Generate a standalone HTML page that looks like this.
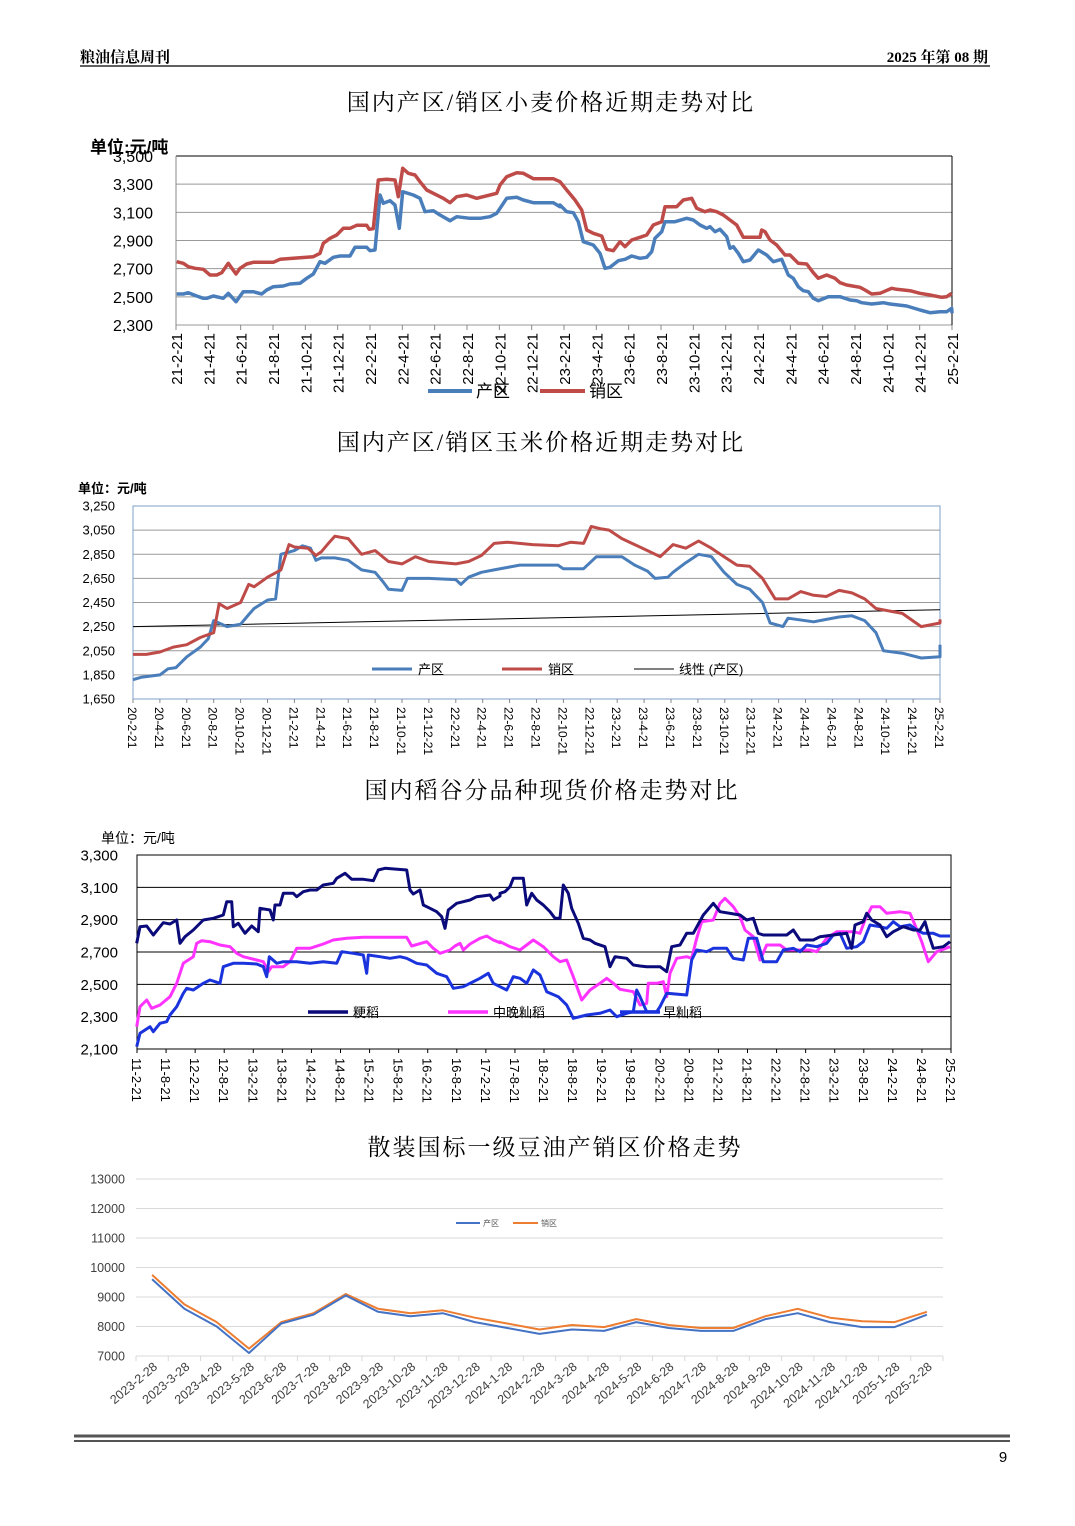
<!DOCTYPE html>
<html><head><meta charset="utf-8">
<style>
html,body{margin:0;padding:0;background:#fff;}
svg{display:block;font-family:"Liberation Sans","Noto Sans CJK SC",sans-serif;}
.serif{font-family:"Liberation Serif","Noto Serif CJK SC",serif;}
</style></head>
<body>
<svg id="s" width="1075" height="1526" viewBox="0 0 1075 1526" xmlns="http://www.w3.org/2000/svg">
<text x="80" y="62" font-size="15" class="serif" font-weight="bold">粮油信息周刊</text>
<text x="988" y="62" font-size="15" class="serif" font-weight="bold" text-anchor="end">2025 年第 08 期</text>
<line x1="80" y1="66" x2="990" y2="66" stroke="#000" stroke-width="1.2"/>
<text x="551" y="110" font-size="23" text-anchor="middle" class="serif" letter-spacing="2">国内产区/销区小麦价格近期走势对比</text>
<text x="541" y="450" font-size="23" text-anchor="middle" class="serif" letter-spacing="2">国内产区/销区玉米价格近期走势对比</text>
<text x="552" y="798" font-size="23" text-anchor="middle" class="serif" letter-spacing="2">国内稻谷分品种现货价格走势对比</text>
<text x="555" y="1155" font-size="23" text-anchor="middle" class="serif" letter-spacing="2">散装国标一级豆油产销区价格走势</text>
<g id="g"></g>
<line x1="74" y1="1436" x2="1010" y2="1436" stroke="#555" stroke-width="3"/>
<line x1="74" y1="1441" x2="1010" y2="1441" stroke="#555" stroke-width="2"/>
<text x="1003" y="1462" font-size="15" text-anchor="middle">9</text>
</svg>
<script>
var out='';
function fmt(v){return v>=1000?Math.floor(v/1000)+','+String(v%1000).padStart(3,'0'):String(v);}
function line(pts,color,w){return '<polyline fill="none" stroke="'+color+'" stroke-width="'+w+'" stroke-linejoin="round" points="'+pts.map(p=>p[0].toFixed(1)+','+p[1].toFixed(1)).join(' ')+'"/>';}
function series(data,x0,dx,y0,v0,k,color,w,remap){return line(data.map(d=>[x0+(remap?remap(d[0]):d[0])*dx,y0-(d[1]-v0)*k]),color,w);}
function pairs(a){var r=[];for(var i=0;i<a.length;i+=2)r.push([a[i],a[i+1]]);return r;}
// zoom-pixel polylines: two segments, (ox,oy) offsets, scale 1/3
function zp(a,ox,oy,maxpx){var r=[];for(var i=0;i<a.length;i+=2){if(maxpx!==undefined&&a[i]>maxpx)continue;r.push([ox+a[i]/3,oy+a[i+1]/3]);}return r;}

// ---- Chart 1 wheat ----
(function(){
var x0=176,x1=952,y0=325,y1=156,k=(y0-y1)/1200,dx=(x1-x0)/24;
for(var v=2300;v<=3500;v+=200){var y=y0-(v-2300)*k;
 out+='<line x1="'+x0+'" y1="'+y+'" x2="'+x1+'" y2="'+y+'" stroke="#999" stroke-width="1"/>';
 out+='<text x="153" y="'+(y+6)+'" font-size="16" text-anchor="end">'+fmt(v)+'</text>';}
out+='<line x1="'+x0+'" y1="'+y1+'" x2="'+x1+'" y2="'+y1+'" stroke="#000"/><line x1="'+x1+'" y1="'+y1+'" x2="'+x1+'" y2="'+y0+'" stroke="#000"/>';
out+='<line x1="'+x0+'" y1="'+y1+'" x2="'+x0+'" y2="'+y0+'" stroke="#888"/>';
out+='<text x="90" y="153" font-size="17" font-weight="bold">单位:元/吨</text>';
var lab=[];for(var t=0;t<=24;t++){var m=2+2*t;var yr=21+Math.floor((m-1)/12);var mm=((m-1)%12)+1;lab.push(yr+'-'+mm+'-21');}
lab.forEach(function(l,i){var x=x0+i*dx;out+='<line x1="'+x+'" y1="'+y0+'" x2="'+x+'" y2="'+(y0+5)+'" stroke="#888"/>';
 out+='<text transform="translate('+(x+6)+','+(y0+8)+') rotate(-90)" font-size="15" text-anchor="end">'+l+'</text>';});
var rl=[290,395,310,400,325,410,345,415,370,418,390,435,410,435,425,428,445,400,468,432,480,415,500,402,520,397,580,397,600,388,640,385,700,380,720,370,730,340,750,325,770,315,790,295,810,295,830,286,860,286,868,298,880,296,895,150,920,148,945,150,955,200,968,115,985,130,1005,135,1020,155,1040,180,1060,190,1090,205,1110,218,1130,200,1160,195,1190,205,1230,195,1250,190,1260,165,1280,140,1310,128,1330,130,1360,146,1420,146,1440,155];
var rr=[0,95,20,120,45,150,65,180,80,240,100,250,125,258,140,298,160,302,180,275,195,290,215,270,240,262,260,255,280,225,305,215,315,170,350,170,370,150,395,145,410,175,435,185,450,180,470,185,490,195,510,210,530,225,550,262,600,262,605,240,615,245,630,270,650,285,675,315,690,315,715,340,740,342,760,368,775,385,800,375,825,385,840,398,860,405,900,412,915,420,935,432,960,430,995,415,1010,418,1050,422,1080,430,1110,435,1145,442,1160,440,1175,430];
var bl=[290,492,310,492,325,488,350,498,370,505,380,505,400,498,430,505,445,490,468,515,490,485,520,485,545,492,560,480,580,470,610,468,630,462,660,460,680,445,700,432,720,395,735,400,760,382,780,378,810,378,825,352,860,352,870,362,885,360,900,195,910,220,930,212,945,225,958,295,968,185,1000,195,1020,205,1035,245,1060,242,1080,255,1110,272,1130,260,1170,265,1200,265,1230,260,1250,250,1280,205,1310,202,1330,210,1360,218,1420,218,1440,230];
var br=[0,165,20,185,40,188,55,215,70,275,100,285,120,310,135,355,150,352,175,332,195,328,215,318,240,325,260,322,275,305,285,265,305,245,315,215,345,215,380,205,400,210,420,225,440,235,450,230,465,245,480,238,500,260,510,295,520,290,535,310,550,335,570,330,595,300,620,315,640,335,665,328,685,375,700,385,715,410,730,422,745,425,760,445,775,452,805,440,840,440,870,450,890,452,905,458,935,462,970,458,990,462,1040,468,1080,480,1110,488,1140,485,1160,485,1175,475,1176,490];
out+=line(zp(bl,80,130).concat(zp(br,560,150)),'#4a7ebb',3.5);
out+=line(zp(rl,80,130).concat(zp(rr,560,150)),'#be4b48',3.5);
out+='<line x1="428" y1="391" x2="472" y2="391" stroke="#4a7ebb" stroke-width="4"/><text x="476" y="397" font-size="17">产区</text>';
out+='<line x1="540" y1="391" x2="585" y2="391" stroke="#be4b48" stroke-width="4"/><text x="589" y="397" font-size="17">销区</text>';
})();

// ---- Chart 2 corn ----
(function(){
var x0=133,x1=940,y0=699,y1=506,k=(y0-y1)/1600,dx=(x1-x0)/30;
for(var v=1650;v<=3250;v+=200){var y=y0-(v-1650)*k;
 if(v>1650&&v<3250)out+='<line x1="'+x0+'" y1="'+y+'" x2="'+x1+'" y2="'+y+'" stroke="#999" stroke-width="1"/>';
 out+='<text x="115" y="'+(y+4.5)+'" font-size="13" text-anchor="end">'+fmt(v)+'</text>';}
out+='<rect x="'+x0+'" y="'+y1+'" width="'+(x1-x0)+'" height="'+(y0-y1)+'" fill="none" stroke="#7f9fc8" stroke-width="1"/>';
out+='<text x="78" y="493" font-size="13" font-weight="bold">单位：元/吨</text>';
for(var t=0;t<=30;t++){var m=2+2*t;var yr=20+Math.floor((m-1)/12);var mm=((m-1)%12)+1;var x=x0+t*dx;
 out+='<line x1="'+x+'" y1="'+y0+'" x2="'+x+'" y2="'+(y0+4)+'" stroke="#888"/>';
 out+='<text transform="translate('+(x-5)+','+(y0+8)+') rotate(90)" font-size="12">'+yr+'-'+mm+'-21</text>';}
out+='<line x1="'+x0+'" y1="'+(y0-(2250-1650)*k)+'" x2="'+x1+'" y2="'+(y0-(2390-1650)*k)+'" stroke="#000" stroke-width="1"/>';
function rm(t){if(t<=12)return t; if(t<=28)return t-0.8*(t-12)/16; return 27.2+(t-28)*1.4;}
var b=pairs([0,1810,0.3,1830,1,1850,1.3,1900,1.6,1910,2,2000,2.5,2080,2.8,2150,3,2300,3.5,2250,4,2270,4.3,2350,4.5,2400,5,2470,5.3,2480,5.5,2850,6,2880,6.3,2920,6.6,2900,6.8,2800,7,2820,7.5,2820,8,2800,8.5,2720,9,2700,9.3,2620,9.5,2560,10,2550,10.2,2650,11,2650,12,2640,12.2,2600,12.5,2660,13,2700,13.5,2720,14,2740,14.5,2760,16,2760,16.2,2730,17,2730,17.5,2830,18.5,2830,19,2760,19.5,2710,19.8,2650,20.3,2660,20.5,2700,21,2780,21.5,2850,22,2830,22.5,2700,23,2600,23.5,2560,24,2450,24.3,2280,24.8,2250,25,2320,26,2290,26.5,2310,27,2330,27.5,2340,28,2300,28.3,2200,28.5,2050,29,2030,29.5,1990,30,2000,30.05,2100]);
var r=pairs([0,2020,0.5,2020,1,2040,1.5,2080,2,2100,2.5,2160,3,2200,3.2,2440,3.5,2400,4,2450,4.3,2600,4.5,2580,5,2660,5.5,2720,5.8,2930,6,2910,6.5,2900,6.8,2840,7,2870,7.3,2950,7.5,3000,8,2980,8.5,2850,9,2880,9.5,2790,10,2770,10.5,2830,11,2790,12,2770,12.5,2790,13,2840,13.5,2940,14,2950,15,2930,16,2920,16.5,2950,17,2940,17.3,3080,17.7,3060,18,3050,18.5,2980,19,2930,19.5,2880,20,2830,20.5,2930,21,2900,21.5,2960,22,2900,22.5,2830,23,2760,23.5,2750,24,2650,24.5,2480,25,2480,25.5,2540,26,2510,26.5,2500,27,2550,27.5,2530,28,2480,28.3,2400,29,2360,29.5,2250,30,2280,30.05,2310]);
function rmc(t){var v=rm(t);return Math.min(v,30);}
out+=series(b,x0,dx,y0,1650,k,'#4a7ebb',3,rmc);
out+=series(r,x0,dx,y0,1650,k,'#be4b48',3,rmc);
out+='<line x1="372" y1="669" x2="412" y2="669" stroke="#4a7ebb" stroke-width="3"/><text x="418" y="674" font-size="13">产区</text>';
out+='<line x1="502" y1="669" x2="542" y2="669" stroke="#be4b48" stroke-width="3"/><text x="548" y="674" font-size="13">销区</text>';
out+='<line x1="634" y1="669" x2="674" y2="669" stroke="#000" stroke-width="1"/><text x="679" y="674" font-size="13">线性 (产区)</text>';
})();

// ---- Chart 3 rice ----
(function(){
var x0=137,x1=951,y0=1049,y1=855,k=(y0-y1)/1200,dx=(x1-x0)/28;
for(var v=2100;v<=3300;v+=200){var y=y0-(v-2100)*k;
 out+='<line x1="'+x0+'" y1="'+y+'" x2="'+x1+'" y2="'+y+'" stroke="#000" stroke-width="1"/>';
 out+='<text x="118" y="'+(y+5.5)+'" font-size="15" text-anchor="end">'+fmt(v)+'</text>';}
out+='<rect x="'+x0+'" y="'+y1+'" width="'+(x1-x0)+'" height="'+(y0-y1)+'" fill="none" stroke="#000" stroke-width="1"/>';
out+='<text x="101" y="843" font-size="14">单位：元/吨</text>';
for(var t=0;t<=28;t++){var yr=11+Math.floor(t/2);var mm=t%2?8:2;var x=x0+t*dx;
 out+='<line x1="'+x+'" y1="'+y0+'" x2="'+x+'" y2="'+(y0+4)+'" stroke="#000"/>';
 out+='<text transform="translate('+(x-5)+','+(y0+9)+') rotate(90)" font-size="13">'+yr+'-'+mm+'-21</text>';}
var nL=[200,370,210,320,230,318,250,345,270,320,280,308,300,312,320,300,330,370,345,350,370,330,400,300,430,295,460,285,470,245,485,245,490,320,505,310,525,340,545,318,565,335,570,265,600,270,610,300,615,255,630,255,640,220,670,220,680,230,700,215,720,210,740,210,760,195,790,190,800,175,825,160,845,178,880,178,910,182,925,150,945,145,1010,150,1020,210,1030,222,1050,210,1060,255,1080,265,1100,275,1115,290,1125,325,1135,270,1160,250,1180,245,1200,240,1220,230,1260,225,1270,240,1290,228];
var nR=[0,130,15,125,30,110,40,85,70,85,80,165,95,130,110,150,130,165,150,185,165,205,180,205,190,105,205,130,215,175,235,220,250,265,270,270,285,280,315,290,330,350,345,320,380,325,400,345,420,348,440,350,480,350,500,365,515,290,540,285,560,250,580,250,610,195,640,160,660,185,720,195,740,210,760,205,775,250,790,255,860,255,880,240,900,270,940,270,960,260,1000,255,1040,250,1055,295,1065,225,1090,215,1100,190,1115,210,1140,225,1160,260,1180,245,1210,230,1240,240,1260,240,1275,215,1285,250,1300,295,1330,290,1350,275];
var pL=[200,620,210,560,230,540,245,565,270,555,300,530,320,490,340,430,370,410,380,370,395,362,420,365,450,375,480,380,500,400,520,410,560,420,580,425,595,455,605,440,640,440,660,425,680,385,720,385,760,372,790,360,830,355,880,352,1010,352,1025,378,1070,365,1090,385,1110,400,1140,390,1155,378,1170,370,1180,390,1200,372,1230,355,1250,348,1270,360,1290,368];
var pR=[0,275,30,290,60,300,80,285,100,270,130,290,160,320,180,335,200,330,220,380,245,450,270,420,300,400,320,385,340,400,360,418,400,425,420,465,440,460,445,400,470,400,490,395,500,440,510,370,530,325,560,320,575,325,590,265,605,215,640,210,660,160,675,145,700,170,720,200,735,240,760,260,780,330,800,285,840,285,860,300,900,300,930,300,950,305,980,265,1010,245,1060,245,1080,250,1095,210,1115,170,1140,170,1160,190,1200,185,1230,190,1245,225,1265,275,1285,335,1310,305,1350,290];
var eL=[200,680,210,640,240,620,250,635,270,610,290,605,300,585,320,560,340,520,350,505,370,510,400,490,420,480,450,490,460,440,490,430,520,430,560,432,580,440,590,470,598,410,620,430,640,425,680,425,720,430,760,425,800,430,815,395,850,400,880,405,890,460,895,405,930,410,960,415,990,410,1010,415,1040,430,1070,435,1100,460,1130,470,1150,505,1180,500,1200,490,1230,475,1255,460,1270,490,1290,500];
var eR=[0,410,20,420,40,380,60,385,80,400,100,360,120,375,140,425,175,440,200,465,220,505,260,495,300,490,330,480,350,500,380,490,400,485,410,420,420,440,440,485,470,485,480,470,500,430,560,435,575,330,590,300,620,305,640,295,680,295,700,325,730,330,745,265,770,265,790,335,830,335,850,300,880,295,900,305,920,285,950,290,980,280,1000,255,1020,250,1040,295,1070,290,1090,275,1110,225,1140,230,1160,235,1180,215,1200,230,1230,225,1250,240,1270,250,1300,250,1320,258,1350,258];
out+=line(zp(pL,70,820).concat(zp(pR,500,850)),'#ff33ff',3);
out+=line(zp(eL,70,820).concat(zp(eR,500,850)),'#1a33dd',3);
out+=line(zp(nL,70,820).concat(zp(nR,500,850)),'#0a0a7a',3);
out+='<rect x="300" y="1004" width="60" height="1" fill="none"/>';
out+='<line x1="308" y1="1012" x2="348" y2="1012" stroke="#0a0a7a" stroke-width="3.5"/><text x="353" y="1017" font-size="13">粳稻</text>';
out+='<line x1="448" y1="1012" x2="488" y2="1012" stroke="#ff33ff" stroke-width="3.5"/><text x="493" y="1017" font-size="13">中晚籼稻</text>';
out+='<line x1="620" y1="1012" x2="660" y2="1012" stroke="#1a33dd" stroke-width="3.5"/><text x="663" y="1017" font-size="13">早籼稻</text>';
})();

// ---- Chart 4 soybean oil ----
(function(){
var x0=136,x1=943,y0=1356,y1=1179,k=(y0-y1)/6000;
for(var v=7000;v<=13000;v+=1000){var y=y0-(v-7000)*k;
 out+='<line x1="'+x0+'" y1="'+y+'" x2="'+x1+'" y2="'+y+'" stroke="#d9d9d9" stroke-width="1"/>';
 out+='<text x="125" y="'+(y+4.5)+'" font-size="12.5" text-anchor="end" fill="#404040">'+v+'</text>';}
var lab=[];for(var i=0;i<25;i++){var mm=2+i;var yr=2023+Math.floor((mm-1)/12);mm=((mm-1)%12)+1;lab.push(yr+'-'+mm+'-28');}
var dx=(x1-x0)/25;
for(var i=0;i<=25;i++){var x=x0+i*dx;out+='<line x1="'+x+'" y1="'+y0+'" x2="'+x+'" y2="'+(y0+5)+'" stroke="#d9d9d9"/>';}
lab.forEach(function(l,i){var x=x0+(i+0.5)*dx;out+='<text transform="translate('+(x+6)+','+(y0+12)+') rotate(-40)" font-size="12.5" text-anchor="end" fill="#404040">'+l+'</text>';});
var a=[9600,8600,8000,7100,8100,8400,9050,8500,8350,8450,8150,7950,7750,7900,7850,8150,7950,7850,7850,8250,8450,8150,7980,7980,8400];
var b=[9750,8750,8150,7250,8150,8450,9100,8600,8450,8550,8300,8100,7900,8050,7980,8250,8050,7950,7950,8350,8600,8300,8180,8150,8500];
out+=line(b.map((v,i)=>[x0+(i+0.5)*dx,y0-(v-7000)*k]),'#ed7d31',2);
out+=line(a.map((v,i)=>[x0+(i+0.5)*dx,y0-(v-7000)*k]),'#4472c4',2);
out+='<line x1="456" y1="1223" x2="480" y2="1223" stroke="#4472c4" stroke-width="2"/><text x="483" y="1226" font-size="8" fill="#595959">产区</text>';
out+='<line x1="513" y1="1223" x2="538" y2="1223" stroke="#ed7d31" stroke-width="2"/><text x="541" y="1226" font-size="8" fill="#595959">销区</text>';
})();
document.getElementById('g').innerHTML=out;
</script>
</body></html>
